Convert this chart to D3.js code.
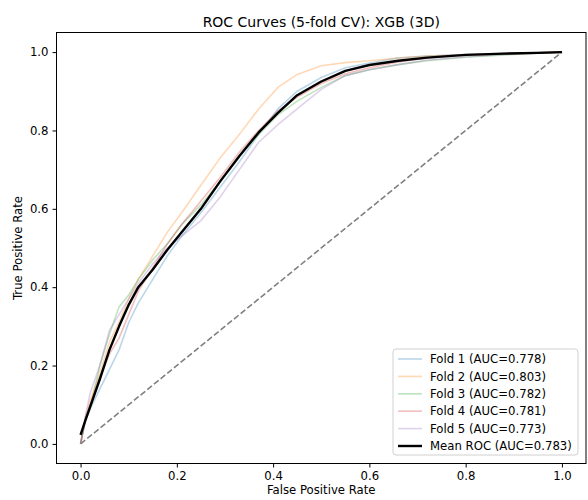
<!DOCTYPE html>
<html>
<head>
<meta charset="utf-8">
<script src="https://cdn.jsdelivr.net/npm/d3@7"></script>
<style>
  body { margin: 0; background: #fff; }
  text { font-family: "DejaVu Sans", sans-serif; }
</style>
</head>
<body>
<svg id="chart"></svg>
<script>
// shared false-positive-rate grid for every curve
const fprGrid = [0, 0.01, 0.02, 0.04, 0.06, 0.08, 0.10, 0.12, 0.15, 0.18, 0.21, 0.25, 0.29,
  0.33, 0.37, 0.41, 0.45, 0.50, 0.55, 0.60, 0.66, 0.72, 0.80, 0.88, 0.95, 1.0];

const fold1Tpr = [0, 0.06, 0.09, 0.14, 0.19, 0.24, 0.31, 0.36, 0.42, 0.48, 0.53, 0.59, 0.655,
  0.72, 0.79, 0.855, 0.9, 0.935, 0.96, 0.972, 0.985, 0.99, 0.994, 0.997, 0.999, 1];
const fold2Tpr = [0, 0.07, 0.11, 0.18, 0.26, 0.31, 0.37, 0.42, 0.48, 0.54, 0.59, 0.66, 0.73,
  0.79, 0.855, 0.91, 0.943, 0.965, 0.973, 0.978, 0.985, 0.99, 0.993, 0.995, 0.998, 1];
const fold3Tpr = [0, 0.06, 0.09, 0.2, 0.28, 0.35, 0.38, 0.42, 0.47, 0.51, 0.56, 0.61, 0.67,
  0.735, 0.79, 0.84, 0.875, 0.91, 0.94, 0.955, 0.968, 0.978, 0.987, 0.993, 0.997, 1];
const fold4Tpr = [0, 0.06, 0.1, 0.17, 0.23, 0.27, 0.33, 0.39, 0.45, 0.51, 0.56, 0.62, 0.68,
  0.745, 0.8, 0.85, 0.885, 0.92, 0.945, 0.96, 0.975, 0.985, 0.992, 0.996, 0.998, 1];
const fold5Tpr = [0, 0.07, 0.13, 0.2, 0.29, 0.33, 0.37, 0.41, 0.46, 0.5, 0.53, 0.57, 0.63,
  0.7, 0.77, 0.815, 0.855, 0.905, 0.94, 0.955, 0.968, 0.98, 0.988, 0.994, 0.997, 1];
const meanTpr = [0.023, 0.06, 0.095, 0.165, 0.24, 0.3, 0.355, 0.4, 0.445, 0.495, 0.54, 0.6, 0.67,
  0.735, 0.795, 0.845, 0.89, 0.925, 0.952, 0.967, 0.978, 0.986, 0.993, 0.996, 0.998, 1.0];

const foldNames = ["Fold 1", "Fold 2", "Fold 3", "Fold 4", "Fold 5"];
const foldAuc = [0.778, 0.803, 0.782, 0.781, 0.773];
const meanAuc = 0.783;
const tickValues = [0, 0.2, 0.4, 0.6, 0.8, 1.0];

const foldTprs = [fold1Tpr, fold2Tpr, fold3Tpr, fold4Tpr, fold5Tpr];
const foldColors = ["#1f77b4", "#ff7f0e", "#2ca02c", "#d62728", "#9467bd"];

const W = 588, H = 500;
const svg = d3.select("#chart").attr("width", W).attr("height", H);

const x = d3.scaleLinear().domain([-0.05, 1.05]).range([56.5, 586]);
const y = d3.scaleLinear().domain([-0.05, 1.05]).range([463.5, 32.5]);

const line = d3.line()
  .x(d => x(d[0]))
  .y(d => y(d[1]));

const plot = svg.append("g");

// fold curves
foldTprs.forEach((tpr, i) => {
  plot.append("path")
    .datum(fprGrid.map((f, j) => [f, tpr[j]]))
    .attr("d", line)
    .attr("fill", "none")
    .attr("stroke", foldColors[i])
    .attr("stroke-opacity", 0.3)
    .attr("stroke-width", 1.6);
});

// chance diagonal
plot.append("path")
  .datum([[0, 0], [1, 1]])
  .attr("d", line)
  .attr("fill", "none")
  .attr("stroke", "#808080")
  .attr("stroke-width", 1.6)
  .attr("stroke-dasharray", "6,2.6");

// mean ROC
plot.append("path")
  .datum(fprGrid.map((f, j) => [f, meanTpr[j]]))
  .attr("d", line)
  .attr("fill", "none")
  .attr("stroke", "#000")
  .attr("stroke-width", 2.4)
  .attr("stroke-linejoin", "round");

// axes
const xAxis = svg.append("g")
  .attr("transform", "translate(0,463.5)")
  .call(d3.axisBottom(x).tickValues(tickValues).tickFormat(d3.format(".1f")).tickSize(4).tickPadding(4));
const yAxis = svg.append("g")
  .attr("transform", "translate(56.5,0)")
  .call(d3.axisLeft(y).tickValues(tickValues).tickFormat(d3.format(".1f")).tickSize(4).tickPadding(4));
[xAxis, yAxis].forEach(a => {
  a.select(".domain").remove();
  a.selectAll("text").style("font-size", "11.7px").attr("fill", "#000");
  a.selectAll("line").attr("stroke", "#000");
});

// frame
svg.append("rect")
  .attr("x", 56.5).attr("y", 32.5)
  .attr("width", 586 - 56.5).attr("height", 463.5 - 32.5)
  .attr("fill", "none").attr("stroke", "#000").attr("stroke-width", 1);

// labels
svg.append("text")
  .attr("x", (56.5 + 586) / 2).attr("y", 27)
  .attr("text-anchor", "middle")
  .style("font-size", "14px")
  .text("ROC Curves (5-fold CV): XGB (3D)");

svg.append("text")
  .attr("x", (56.5 + 586) / 2).attr("y", 494)
  .attr("text-anchor", "middle")
  .style("font-size", "11.7px")
  .text("False Positive Rate");

svg.append("text")
  .attr("transform", `translate(22,${(32.5 + 463.5) / 2}) rotate(-90)`)
  .attr("text-anchor", "middle")
  .style("font-size", "11.7px")
  .text("True Positive Rate");

// legend
const legend = svg.append("g").attr("transform", "translate(393,349)");
legend.append("rect")
  .attr("width", 185).attr("height", 106)
  .attr("rx", 3)
  .attr("fill", "#fff").attr("fill-opacity", 0.8)
  .attr("stroke", "#d0d0d0").attr("stroke-width", 1);

const legendItems = foldNames.map((n, i) => ({
  label: `${n} (AUC=${foldAuc[i].toFixed(3)})`, color: foldColors[i], op: 0.3, w: 1.6
})).concat([{ label: `Mean ROC (AUC=${meanAuc.toFixed(3)})`, color: "#000", op: 1, w: 2.4 }]);

legendItems.forEach((it, i) => {
  const row = legend.append("g").attr("transform", `translate(0,${10 + i * 17.4})`);
  row.append("line")
    .attr("x1", 5).attr("x2", 29)
    .attr("stroke", it.color).attr("stroke-opacity", it.op).attr("stroke-width", it.w);
  row.append("text")
    .attr("x", 37).attr("dy", "0.35em")
    .style("font-size", "11.7px")
    .text(it.label);
});
</script>
</body>
</html>
